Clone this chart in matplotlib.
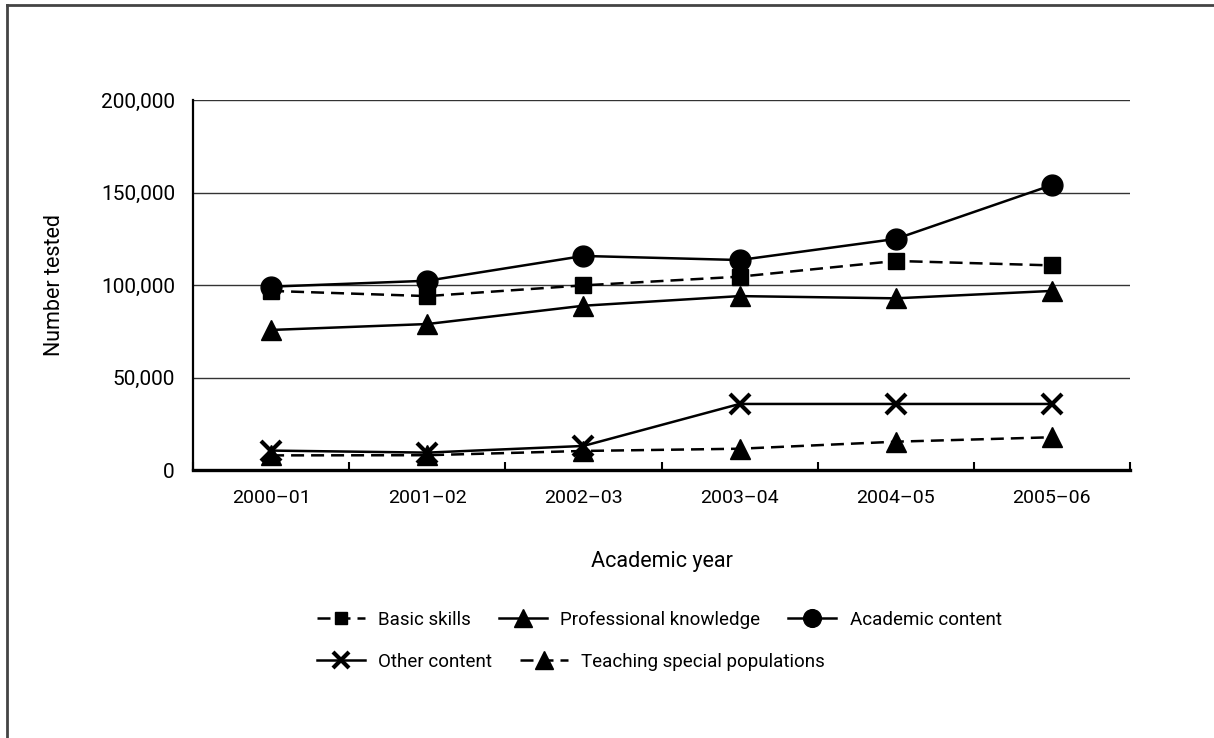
import matplotlib

matplotlib.use("Agg")

import matplotlib.pyplot as plt
from matplotlib.lines import Line2D

plt.rcParams["font.family"] = ["Roboto", "DejaVu Sans"]

# data
years = ["2000\u201301", "2001\u201302", "2002\u201303", "2003\u201304", "2004\u201305", "2005\u201306"]
basic_skills = [96800, 94000, 99800, 104500, 113000, 110600]
professional_knowledge = [75700, 78900, 88800, 94000, 92800, 96800]
academic_content = [99100, 102300, 115700, 113500, 124900, 154000]
other_content = [10500, 9400, 13000, 35700, 35700, 35700]
teaching_special = [7900, 8000, 10300, 11500, 15300, 17700]
y_ticks = [0, 50000, 100000, 150000, 200000]

W, H = 1214, 738
fig = plt.figure(figsize=(W / 100, H / 100), dpi=100)
ax = fig.add_axes([193 / W, 1 - 470 / H, (1130 - 193) / W, (470 - 100) / H])

x = range(len(years))
dash = (0, (5.2, 2.8))
lw = 1.8
series = [
    ("Basic skills", basic_skills, dash, "s", 11),
    ("Professional knowledge", professional_knowledge, "-", "^", 15),
    ("Academic content", academic_content, "-", "o", 15),
    ("Other content", other_content, "-", "x", 14),
    ("Teaching special populations", teaching_special, dash, "^", 15),
]
handles = {}
for name, vals, ls, mk, ms in series:
    (ln,) = ax.plot(
        x, vals, color="black", linestyle=ls, linewidth=lw,
        marker=mk, markersize=ms, markeredgewidth=3 if mk == "x" else 1,
        label=name, zorder=3,
    )
    handles[name] = ln

ax.set_xlim(-0.5, len(years) - 0.5)
ax.set_ylim(0, 200000)
ax.set_yticks(y_ticks)
ax.set_yticklabels([f"{v:,}" for v in y_ticks], fontsize=15)
ax.set_xticks(list(x))
ax.set_xticklabels(years, fontsize=14)
ax.set_xticks([i + 0.5 for i in range(-1, len(years))], minor=True)
ax.tick_params(axis="x", which="major", length=0, pad=14)
ax.tick_params(axis="x", which="minor", direction="in", length=6, width=1.5)
ax.tick_params(axis="y", length=0, pad=13)
ax.grid(axis="y", color="#333333", linewidth=1.0)
ax.set_axisbelow(True)
for s in ("top", "right"):
    ax.spines[s].set_visible(False)
ax.spines["bottom"].set_linewidth(2.4)
ax.spines["left"].set_linewidth(1.6)

ax.set_ylabel("Number tested", fontsize=15.5, labelpad=26)
fig.text((193 + 1130) / 2 / W, 1 - 562 / H, "Academic year", fontsize=15.5,
         ha="center", va="center")

leg_kw = dict(frameon=False, fontsize=13.5, markerscale=0.85, handlelength=2.56,
              handletextpad=0.7, columnspacing=1.5, borderaxespad=0, borderpad=0)
row1 = ["Basic skills", "Professional knowledge", "Academic content"]
row2 = ["Other content", "Teaching special populations"]
fig.legend([handles[n] for n in row1], row1, ncol=3, loc="center left",
           bbox_to_anchor=(317 / W, 1 - 620 / H), **leg_kw)
fig.legend([handles[n] for n in row2], row2, ncol=2, loc="center left",
           bbox_to_anchor=(317 / W, 1 - 662 / H), **leg_kw)

# outer frame: top and left edges only
frame_kw = dict(color="#444444", linewidth=2, transform=fig.transFigure)
fig.add_artist(Line2D([7 / W, 1], [1 - 5 / H, 1 - 5 / H], **frame_kw))
fig.add_artist(Line2D([7 / W, 7 / W], [1 - 5 / H, 0], **frame_kw))

fig.savefig("out.png", dpi=100)
